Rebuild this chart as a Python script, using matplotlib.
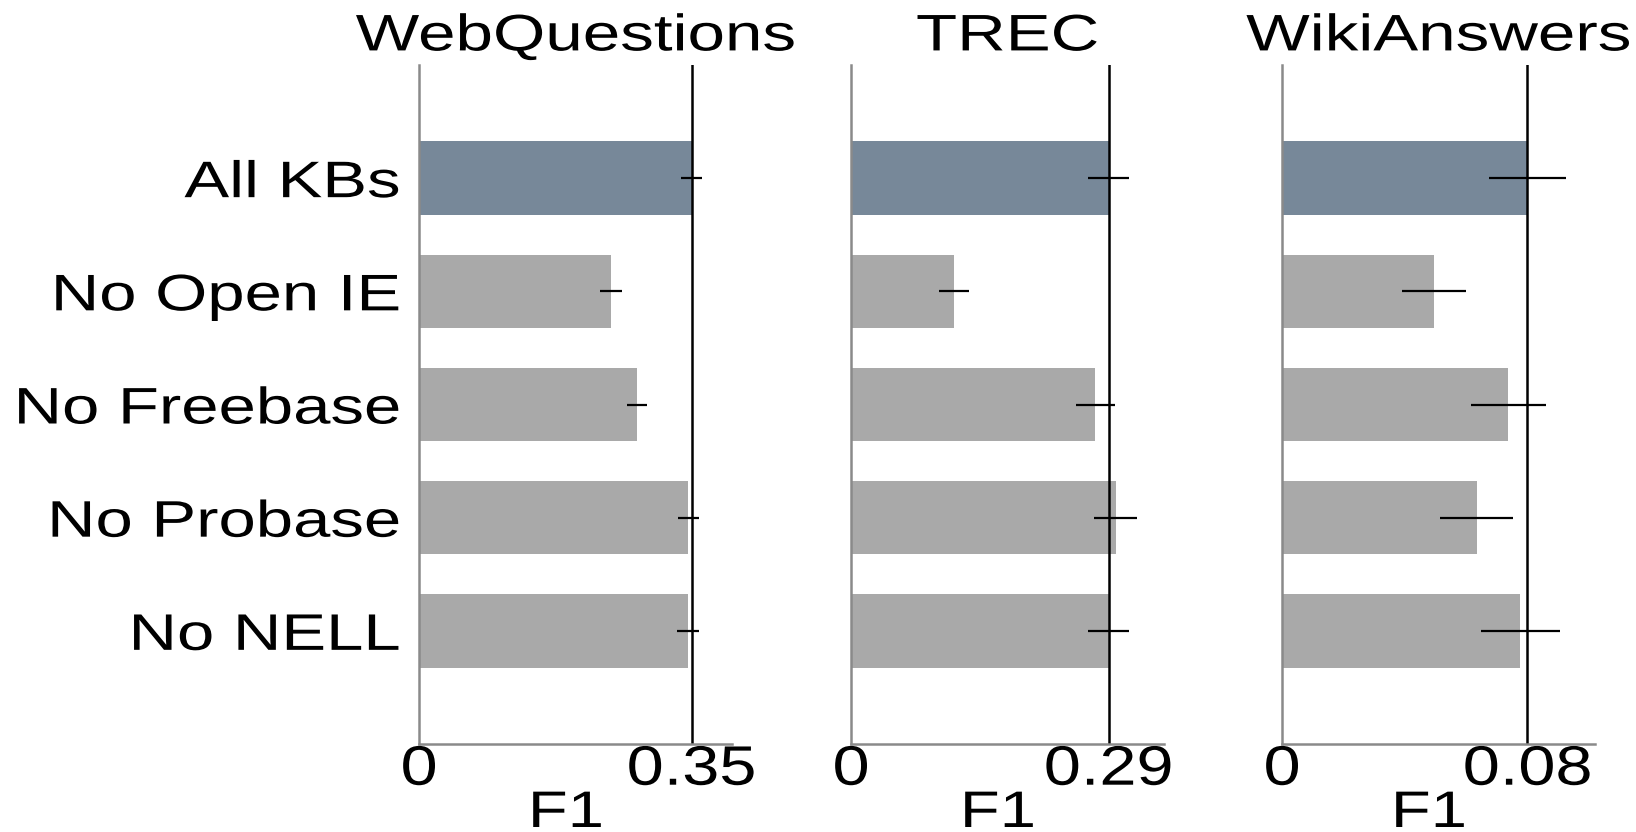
import matplotlib
matplotlib.use("Agg")
import matplotlib.pyplot as plt
from matplotlib import patheffects
from matplotlib.transforms import Affine2D

# Benchmarks and knowledge-base ablations
datasets = ["WebQuestions", "TREC", "WikiAnswers"]
configs = ["All KBs", "No Open IE", "No Freebase", "No Probase", "No NELL"]

# Mean F1 and its spread for each configuration
f1_webq = [0.350, 0.247, 0.280, 0.346, 0.346]
err_webq = [0.013, 0.014, 0.013, 0.013, 0.014]
f1_trec = [0.290, 0.116, 0.275, 0.298, 0.290]
err_trec = [0.023, 0.017, 0.022, 0.024, 0.023]
f1_wiki = [0.080, 0.0495, 0.0738, 0.0634, 0.0777]
err_wiki = [0.0127, 0.0104, 0.0123, 0.0118, 0.0129]

# Upper end of each panel's F1 axis
x_max = [0.402, 0.3525, 0.102]

values = [f1_webq, f1_trec, f1_wiki]
errors = [err_webq, err_trec, err_wiki]

FONT = "Liberation Sans"
FS = 37
FS_TICK = 40


class HStretch(patheffects.AbstractPathEffect):
    """Widen glyphs horizontally about a fixed anchor of the ink box."""

    def __init__(self, sx, anchor="center"):
        super().__init__()
        self.sx = sx
        self.anchor = anchor

    def draw_path(self, renderer, gc, tpath, affine, rgbFace=None):
        ext = tpath.get_extents(affine)
        if self.anchor == "right":
            x0 = ext.x1
        elif self.anchor == "left":
            x0 = ext.x0
        else:
            x0 = 0.5 * (ext.x0 + ext.x1)
        stretch = Affine2D().translate(-x0, 0).scale(self.sx, 1.0).translate(x0, 0)
        renderer.draw_path(gc, tpath, affine + stretch, rgbFace)


W, H = 1636, 832
fig = plt.figure(figsize=(W / 100, H / 100), dpi=100)

lefts = [419, 851, 1282]
ax_w = 313
ax_bottom, ax_top = 744, 65

bar_colors = ["#778899"] + ["#a9a9a9"] * (len(configs) - 1)
ypos = list(range(len(configs)))

for i, (name, vals, errs) in enumerate(zip(datasets, values, errors)):
    ax = fig.add_axes([lefts[i] / W, 1 - ax_bottom / H, ax_w / W, (ax_bottom - ax_top) / H])
    ax.barh(ypos, vals, height=0.65, color=bar_colors, zorder=1)
    ax.errorbar(vals, ypos, xerr=errs, fmt="none", ecolor="black",
                elinewidth=1.6, capsize=0, zorder=3)
    ax.axvline(vals[0], color="black", lw=1.8, zorder=2)

    ax.set_xlim(0, x_max[i])
    ax.set_ylim(5, -1)

    for side in ("top", "right"):
        ax.spines[side].set_visible(False)
    for side in ("left", "bottom"):
        ax.spines[side].set_color("#8a8a8a")
        ax.spines[side].set_linewidth(1.8)

    ax.set_xticks([0, vals[0]])
    ax.set_xticklabels(["0", f"{vals[0]:.2f}"], fontfamily=FONT, fontsize=FS_TICK)
    ax.tick_params(axis="x", length=0, pad=0.5)
    for lab in ax.get_xticklabels():
        lab.set_path_effects([HStretch(1.2, "center")])

    ax.set_yticks(ypos)
    if i == 0:
        ax.set_yticklabels(configs, fontfamily=FONT, fontsize=FS)
        for lab in ax.get_yticklabels():
            lab.set_path_effects([HStretch(1.305, "right")])
    else:
        ax.set_yticklabels([])
    ax.tick_params(axis="y", length=0, pad=13.5)

    t = ax.set_title(name, fontfamily=FONT, fontsize=FS, pad=10.5)
    t.set_path_effects([HStretch(1.31, "center")])

    xl = ax.set_xlabel("F1", fontfamily=FONT, fontsize=FS)
    xl.set_verticalalignment("baseline")
    ax.xaxis.set_label_coords(0.47, -(827 - ax_bottom) / (ax_bottom - ax_top))
    xl.set_path_effects([HStretch(1.27, "center")])

fig.savefig("out.png", dpi=100)
